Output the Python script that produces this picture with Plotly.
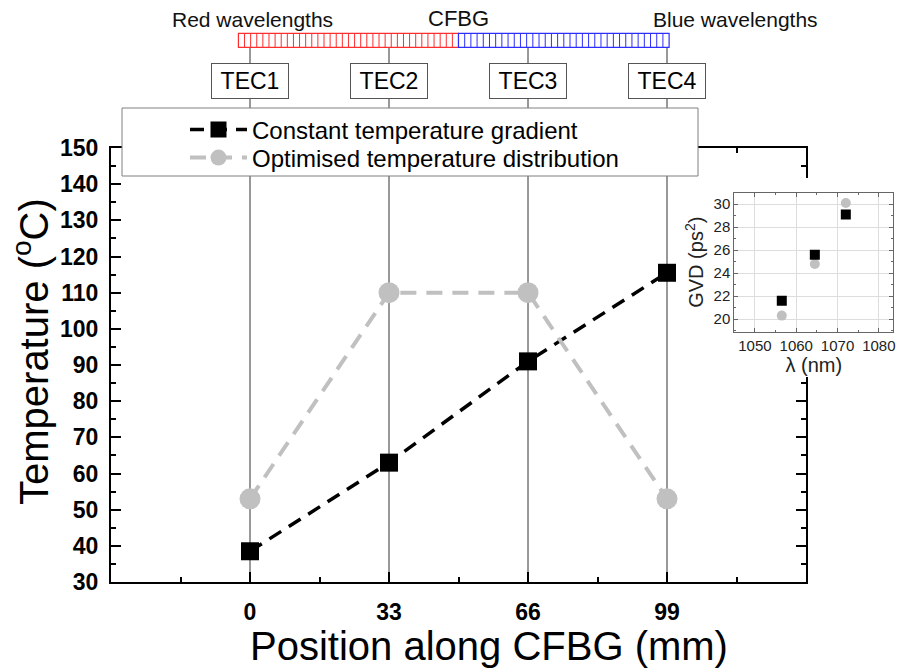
import numpy as np
import plotly.graph_objects as go

# ---------------- data ----------------
positions = [0, 33, 66, 99]
position_ticks = ["0", "33", "66", "99"]
temp_constant = [38.5, 63, 91, 115.5]
temp_optimised = [53, 110, 110, 53]
tec_labels = ["TEC1", "TEC2", "TEC3", "TEC4"]

inset_wavelength = [1056.5, 1064.5, 1072.0]
gvd_constant = [21.6, 25.6, 29.1]
gvd_optimised = [20.3, 24.8, 30.1]

names = ["Constant temperature gradient", "Optimised temperature distribution"]

# ---------------- styling ----------------
W, H = 897, 672
FONT = "Arial, 'Liberation Sans', sans-serif"
GREY = "#c0c0c0"


def px_x(p):
    return p / W


def px_y(p):
    return (H - p) / H


main_dom_x = [px_x(111), px_x(806)]
main_dom_y = [px_y(582), px_y(148)]
cover_dom_x = [px_x(686), 1.0]
cover_dom_y = [px_y(377), px_y(178)]
inset_dom_x = [px_x(734.3), px_x(893.3)]
inset_dom_y = [px_y(331.7), px_y(192.7)]

fig = go.Figure()

# main traces
fig.add_trace(go.Scatter(
    x=positions, y=temp_constant, name=names[0], mode="lines+markers",
    line=dict(color="black", width=3.5, dash="14px,9px"),
    marker=dict(symbol="square", size=18, color="black"),
    xaxis="x", yaxis="y", cliponaxis=False, legend="legend"))
fig.add_trace(go.Scatter(
    x=positions, y=temp_optimised, name=names[1], mode="lines+markers",
    line=dict(color=GREY, width=4, dash="16px,10px"),
    marker=dict(symbol="circle", size=21, color=GREY),
    xaxis="x", yaxis="y", cliponaxis=False, legend="legend2"))

# white cover subplot (hides the main right axis behind the inset)
fig.add_trace(go.Scatter(x=[], y=[], xaxis="x2", yaxis="y2", showlegend=False,
                         hoverinfo="skip"))

# inset traces
fig.add_trace(go.Scatter(
    x=inset_wavelength, y=gvd_optimised, mode="markers", showlegend=False,
    marker=dict(symbol="circle", size=10, color=GREY), xaxis="x3", yaxis="y3"))
fig.add_trace(go.Scatter(
    x=inset_wavelength, y=gvd_constant, mode="markers", showlegend=False,
    marker=dict(symbol="square", size=10, color="black"), xaxis="x3", yaxis="y3"))

shapes = []
# vertical position lines from the CFBG bar down to the bottom axis
bar_bottom = (582 - 47.3) / 434
bar_top = (582 - 33.3) / 434
for p in positions:
    shapes.append(dict(type="line", xref="x", yref="y domain", x0=p, x1=p,
                       y0=0, y1=bar_bottom, line=dict(color="#333333", width=1),
                       layer="below"))

# CFBG grating bar (red half / blue half, vertical hatch)
bar_left, bar_mid, bar_right = -2.75, 49.5, 99.5
for (a, b, n, col) in [(bar_left, bar_mid, 36, "rgb(255,45,45)"),
                       (bar_mid, bar_right, 34, "rgb(45,45,255)")]:
    shapes.append(dict(type="rect", xref="x", yref="y domain", x0=a, x1=b,
                       y0=bar_bottom, y1=bar_top, line=dict(color=col, width=1.2),
                       fillcolor="white", layer="above"))
    for xv in np.linspace(a, b, n + 1)[1:-1]:
        shapes.append(dict(type="line", xref="x", yref="y domain", x0=xv, x1=xv,
                           y0=bar_bottom, y1=bar_top, line=dict(color=col, width=1),
                           layer="above"))

# legend box
shapes.append(dict(type="rect", xref="paper", yref="paper",
                   x0=px_x(122), x1=px_x(698), y0=px_y(176), y1=px_y(108),
                   line=dict(color="#808080", width=1), fillcolor="white",
                   layer="above"))

annotations = []
for p, t in zip(positions, tec_labels):
    annotations.append(dict(x=p, y=(582 - 81) / 434, xref="x", yref="y domain",
                            xanchor="center", yanchor="middle",
                            text=t, showarrow=False, width=74, height=32,
                            bgcolor="white", bordercolor="#555555", borderwidth=1,
                            borderpad=1, font=dict(family=FONT, size=23, color="black")))

annotations += [
    dict(x=0.5, y=(582 - 20) / 434, xref="x", yref="y domain", text="Red wavelengths",
         xanchor="center", yanchor="middle",
         showarrow=False, font=dict(family=FONT, size=21, color="#111")),
    dict(x=49.5, y=(582 - 18) / 434, xref="x", yref="y domain", text="CFBG",
         xanchor="center", yanchor="middle",
         showarrow=False, font=dict(family=FONT, size=22, color="#111")),
    dict(x=115.2, y=(582 - 20) / 434, xref="x", yref="y domain", text="Blue wavelengths",
         xanchor="center", yanchor="middle",
         showarrow=False, font=dict(family=FONT, size=21, color="#111")),
    dict(x=px_x(488.5), y=px_y(646), xref="paper", yref="paper",
         xanchor="center", yanchor="middle",
         text="Position along CFBG (mm)", showarrow=False,
         font=dict(family=FONT, size=40, color="black")),
    dict(x=px_x(31), y=px_y(352), xref="paper", yref="paper", textangle=-90,
         xanchor="center", yanchor="middle",
         text="Temperature (<sup>o</sup>C)", showarrow=False,
         font=dict(family=FONT, size=40, color="black")),
]

axis_common = dict(showline=True, linecolor="black", linewidth=2, mirror="ticks",
                   ticks="inside", ticklen=10, tickwidth=2, tickcolor="black",
                   showgrid=False, zeroline=False, automargin=False,
                   tickfont=dict(family=FONT, size=23, color="black", weight="bold"))

legend_common = dict(xanchor="left", yanchor="middle", bgcolor="rgba(0,0,0,0)",
                     borderwidth=0, itemwidth=57,
                     font=dict(family=FONT, size=24, color="black"))

inset_common = dict(showline=True, linecolor="#666666", linewidth=1, mirror="ticks",
                    ticks="inside", ticklen=4, tickcolor="#666666", showgrid=True,
                    gridcolor="#dddddd", zeroline=False, automargin=False,
                    tickfont=dict(family=FONT, size=15, color="#222"))

fig.update_layout(
    width=W, height=H, margin=dict(l=0, r=0, t=0, b=0, autoexpand=False),
    paper_bgcolor="white", plot_bgcolor="white",
    xaxis=dict(domain=main_dom_x, range=[-33, 132], anchor="y",
               tickmode="array", tickvals=positions, ticktext=position_ticks,
               ticklabelstandoff=8,
               minor=dict(dtick=16.5, tick0=0, ticks="inside", ticklen=5,
                          tickwidth=2, tickcolor="black"),
               **axis_common),
    yaxis=dict(domain=main_dom_y, range=[30, 150], anchor="x",
               tickmode="linear", tick0=30, dtick=10, ticklabelstandoff=6,
               minor=dict(dtick=5, ticks="inside", ticklen=5, tickwidth=2,
                          tickcolor="black"),
               **axis_common),
    xaxis2=dict(domain=cover_dom_x, anchor="y2", range=[0, 1], showline=False,
                showgrid=False, zeroline=False, showticklabels=False, ticks="",
                automargin=False),
    yaxis2=dict(domain=cover_dom_y, anchor="x2", range=[0, 1], showline=False,
                showgrid=False, zeroline=False, showticklabels=False, ticks="",
                automargin=False),
    xaxis3=dict(domain=inset_dom_x, anchor="y3", range=[1045, 1083.5],
                tickvals=[1050, 1060, 1070, 1080],
                minor=dict(dtick=5, ticks="inside", ticklen=2, tickcolor="#666666"),
                title=dict(text="λ (nm)", standoff=2,
                           font=dict(family=FONT, size=20, color="#222")),
                **inset_common),
    yaxis3=dict(domain=inset_dom_y, anchor="x3", range=[18.9, 31],
                tickvals=[20, 22, 24, 26, 28, 30],
                minor=dict(dtick=1, ticks="inside", ticklen=2, tickcolor="#666666"),
                title=dict(text="GVD (ps<sup>2</sup>)", standoff=4,
                           font=dict(family=FONT, size=20, color="#222")),
                **inset_common),
    shapes=shapes,
    annotations=annotations,
    showlegend=True,
    legend=dict(x=px_x(185), y=px_y(130), **legend_common),
    legend2=dict(x=px_x(185), y=px_y(158), **legend_common),
)

fig.write_html("out.html")
